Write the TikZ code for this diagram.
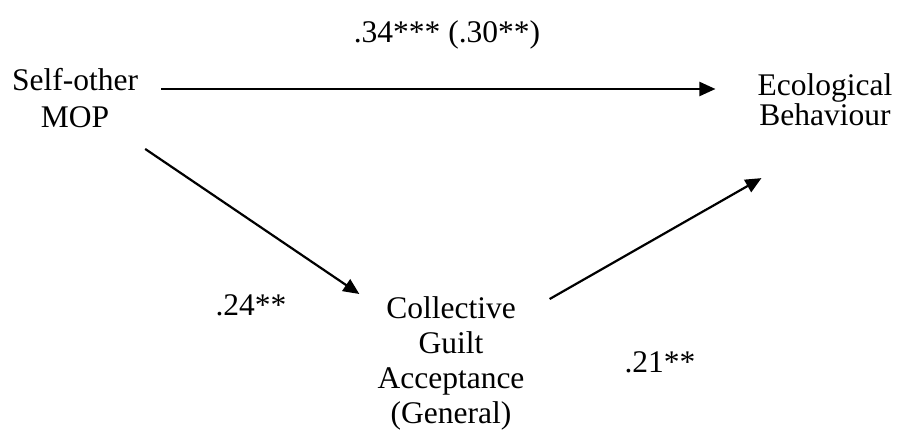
\documentclass[tikz,border=0pt]{standalone}
\usepackage{fontspec}
\setmainfont{Liberation Serif}
\usetikzlibrary{arrows.meta}

\begin{document}
\begin{tikzpicture}[
	x=1pt, y=1pt,
	every node/.style={inner sep=0pt, align=center, font=\fontsize{31.5}{37}\selectfont},
	arr/.style={line width=2.2pt, -{Triangle[length=16pt,width=14pt]}},
	coef/.style={font=\fontsize{31.5}{37}\selectfont}]
\useasboundingbox (0,0) rectangle (898,-433);
\node (self) at (75,-98) {Self-other\\MOP};
\node[font=\fontsize{31.5}{27}\selectfont] (eco) at (825,-100) {Ecological\\Behaviour};
\node[font=\fontsize{31.5}{35}\selectfont] (guilt) at (451,-363) {Collective\\Guilt\\Acceptance\\(General)};
\draw[arr] ([xshift=23pt,yshift=9pt]self.east) -- ([xshift=-42pt,yshift=11pt]eco.west);
\draw[arr] ([xshift=7pt,yshift=-21pt]self.south east) -- ([xshift=-18pt,yshift=2pt]guilt.north west);
\draw[arr] ([xshift=25pt,yshift=-3pt]guilt.north east) -- ([xshift=4pt,yshift=-52pt]eco.south west);
\node[coef] (c1) at (447,-35) {.34*** (.30**)};
\node[coef] (c2) at (251,-305) {.24**};
\node[coef] (c3) at (660,-362) {.21**};
\end{tikzpicture}
\end{document}
